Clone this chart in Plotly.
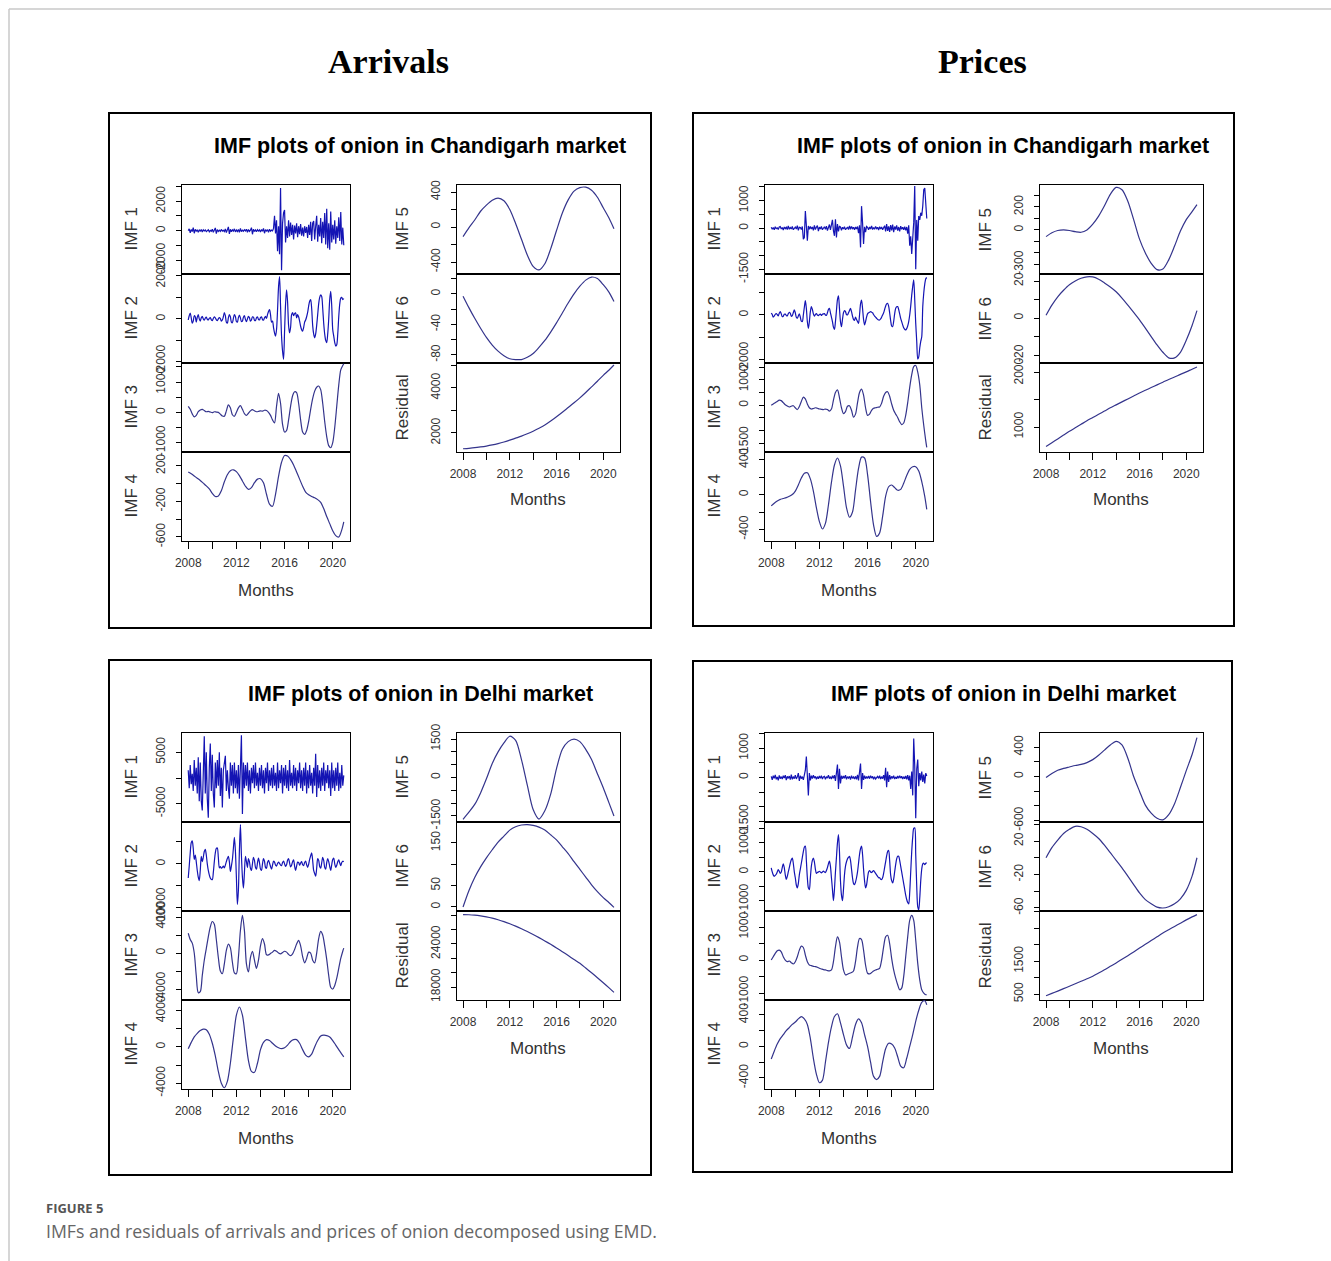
import plotly.graph_objects as go

# ---------------- time index (monthly, Jan 2008 .. Dec 2020) ----------------
MONTHS = [2008 + i / 12 for i in range(156)]
IDX_1M = list(range(156))
IDX_2M = list(range(0, 156, 2)) + [155]
IDX_3M = list(range(0, 156, 3)) + [155]
IDX_6M = list(range(0, 156, 6)) + [155]

X_TICKS = [2008, 2010, 2012, 2014, 2016, 2018, 2020]
X_TICK_TEXT = ["2008", "", "2012", "", "2016", "", "2020"]

# ---------------- Arrivals, Chandigarh ----------------
ARR_CHD_IMF1 = [0, 120, -150, 80, -60, 200, -180, 90, -50, 60, -110, 40,
                -30, 70, -90, 50, -20, 40, -70, 30, 60, -80, 20, -40,
                90, -120, 50, 180, -200, 70, -60, 30, -50, 80, -30, 20,
                -60, 110, -140, 60, 250, -220, 90, -80, 50, -30, 120, -90,
                40, -60, 80, -120, 150, -70, 30, -40, 60, -20, 90, -110,
                70, -50, 30, 200, -250, 100, -60, 40, -80, 60, -30, 50,
                -90, 80, -40, 150, -180, 70, -30, 60, -110, 90, -40, 30,
                -20, 150, 1000, -200, 700, -1400, 300, -1600, 2900, -2700, 500, 1200,
                1400, -800, 300, -500, 700, -400, 550, -300, 400, -600, 350, -200,
                500, -450, 300, -250, 450, -350, 200, -400, 300, -150, 250, -500,
                400, -300, 600, -700, 500, 650, -600, 300, 1000, -750, 400, -400,
                850, -850, 600, -500, 1200, -950, 1480, -1200, 500, -1300, 1300, -800,
                400, -600, 700, -900, 300, -500, 900, -700, 1270, -950, 200, -1000]
ARR_CHD_IMF2 = [-50, 150, 270, 50, -200, -100, 150, 100, -150, 80, 200, 0,
                -100, 50, 120, 0, -60, 40, 80, -20, -50, 30, 60, -40,
                -80, 20, 100, 50, -40, -80, 0, 60, 20, -100, -50, 100,
                300, 150, -150, -200, 50, 200, 100, -150, -180, 30, 200, 120,
                -120, -150, 60, 180, 50, -120, -100, 80, 150, -20, -130, 0,
                120, 60, -100, -50, 100, 80, -60, -80, 50, 100, -20, -50,
                60, 100, -30, -60, 50, 120, 20, 200, 350, 430, 200, -150,
                -100, -400, -650, -800, -500, 400, 1500, 1970, 600, -800, -1500, -1880,
                -600, 700, 1350, 800, -300, -650, -400, 200, 300, 150, 250, 280,
                50, 200, 100, -100, -340, -500, -570, -400, -150, -50, 100, 300,
                600, 820, 900, 500, -300, -700, -880, -700, -300, 200, 700, 1000,
                1120, 1050, 500, -200, -700, -1000, -1100, -700, 0, 900, 1280, 600,
                -500, -800, -1100, -1260, -1200, -700, 100, 700, 970, 1000, 900, 950]
ARR_CHD_IMF3 = [200, 100, -50, -150, -100, 20, 80, 100, 60, 20,
                30, 10, -10, 20, 10, 0, -60, -120, -130, 50,
                250, 150, -80, -130, 0, 150, 220, 100, -40, -100,
                -30, 50, 90, 50, 20, 30, 50, 40, 70, 60,
                0, -100, -250, -350, 200, 630, 300, -400, -650, -600,
                -250, 200, 550, 680, 650, 300, -250, -650, -730, -600,
                -300, 100, 450, 700, 830, 870, 750, 300, -300, -800,
                -1100, -1170, -1000, -500, 200, 900, 1400, 1550, 1600]
ARR_CHD_IMF4 = [130, 110, 85, 60, 35, 5, -25, -60, -110, -145,
                -140, -80, 20, 100, 145, 155, 135, 90, 30, -30,
                -65, -45, 10, 50, 55, 10, -120, -230, -255, -120,
                80, 240, 315, 310, 270, 210, 130, 50, -30, -95,
                -125, -145, -160, -180, -210, -280, -370, -450, -530, -585,
                -600, -520, -430]
ARR_CHD_IMF5 = [-110, -10, 80, 180, 250, 305, 330, 300, 200, 40, -140, -320, -450,
                -490, -420, -250, -40, 160, 310, 410, 450, 455, 420, 340, 220, 100, -20]
ARR_CHD_IMF6 = [-3, -18, -32, -45, -57, -67, -75, -81, -85, -86, -86, -83, -78,
                -70, -61, -50, -38, -25, -12, 0, 10, 18, 22, 20, 12, 2, -10]
ARR_CHD_RES = [1300, 1320, 1345, 1380, 1420, 1470, 1530, 1600, 1680, 1770, 1860, 1965, 2080,
               2210, 2350, 2530, 2720, 2920, 3130, 3340, 3560, 3800, 4050, 4300, 4560, 4800, 5020]

# ---------------- Prices, Chandigarh ----------------
PRI_CHD_IMF1 = [30, -40, 20, -60, 50, -20, 10, -50, 40, 60, -30, 20,
                -70, 40, -20, 30, -50, 80, -40, 20, -30, 60, -60, 10,
                40, -30, 90, -80, 30, 20, -50, 60, -400, -340, 620, 100,
                -460, 80, -40, 60, -30, 40, -80, 100, -50, 30, 90, -110,
                40, -30, 60, -60, 20, 50, -40, 70, -90, 40, 130, -60,
                80, 300, -100, -280, 320, -340, 150, -120, 60, 40, -80, 30,
                -30, 50, -60, 20, 40, -50, 80, -40, 60, -20, 30, -60,
                40, -30, 60, -180, 100, -700, 800, 200, -580, 50, -150, 60,
                30, -60, 40, -30, 80, -50, 20, -40, 60, -20, 30, -70,
                50, -30, 40, -60, 20, 90, -120, 150, -100, 60, -140, 110,
                -80, 130, -150, 60, -50, 100, -90, 40, -120, 70, -40, 30,
                -60, 50, -80, 40, -200, 100, -640, -300, -940, -450, 200, 1530,
                -1500, 300, -460, 440, 300, 560, 450, 800, 1400, 1460, 1000, 350]
PRI_CHD_IMF2 = [80, 20, -100, -50, 30, 60, 20, -40, 80, 150, 50, -80,
                -60, 30, 40, -20, -40, 60, 120, 80, -60, -30, 100, 230,
                100, -100, -150, -50, 50, -100, -280, -300, 0, 350, 650, 300,
                -300, -610, -300, 150, 380, 250, 50, -50, 20, 60, 0, -30,
                20, 40, -20, 30, 50, 60, 0, -20, 100, 250, 300, 100,
                -100, -300, -550, -650, -300, 200, 700, 870, 300, -300, -530, -200,
                100, 200, 150, 20, 0, 100, 200, 300, 150, -50, -200, -250,
                -100, -200, -300, -380, 0, 500, 680, 300, -200, -450, -300, -100,
                50, 100, 120, 150, 130, 100, 20, -50, -100, -150, -200, -230,
                -230, -180, -100, 0, 100, 250, 400, 500, 530, 400, 100, -250,
                -500, -530, -300, 50, 300, 370, 380, 250, 50, -150, -300, -450,
                -580, -650, -680, -620, -500, -300, 0, 400, 900, 1300, 1600, 700,
                -380, -1200, -2000, -1900, -1500, -1200, -990, 380, 1000, 1400, 1640, 1700]
PRI_CHD_IMF3 = [0, 50, 100, 150, 200, 180, 100, 20, -30, -70,
                -40, -20, -100, -170, -50, 150, 320, 250, 50, -100,
                -150, -130, -100, -120, -150, -160, -170, -150, -170, -230,
                -150, 200, 500, 600, 300, -100, -330, -250, -40, -20,
                -200, -470, -350, 100, 500, 630, 400, -100, -400, -350,
                -200, -120, -100, -80, -70, 80, 350, 500, 530, 350,
                50, -200, -350, -480, -650, -760, -700, -400, 100, 700,
                1200, 1520, 1560, 1300, 800, -100, -800, -1400, -1660]
PRI_CHD_IMF4 = [-130, -100, -75, -55, -45, -35, -20, 0, 40, 110,
                190, 245, 250, 180, 40, -150, -310, -395, -330, -120,
                140, 340, 420, 330, 100, -150, -260, -200, 50, 300,
                430, 420, 230, -80, -350, -480, -440, -250, -20, 90,
                110, 80, 50, 60, 130, 220, 290, 320, 320, 270,
                150, -20, -170]
PRI_CHD_IMF5 = [-58, -25, -5, 0, -5, -15, -20, 0, 50, 120, 210, 310, 370,
                350, 250, 90, -80, -200, -290, -345, -340, -260, -140, -10, 90, 160, 220]
PRI_CHD_IMF6 = [1.5, 7, 11.5, 15, 18, 20, 21.5, 22.3, 22.2, 21, 19, 16.8, 14.2,
                10.8, 7, 3, -1, -5.5, -10, -14.5, -18.5, -21.5, -21.5, -18.5, -12, -4, 4]
PRI_CHD_RES = [640, 710, 780, 850, 920, 985, 1050, 1115, 1175, 1235, 1295, 1355, 1410,
               1465, 1520, 1575, 1630, 1680, 1730, 1780, 1830, 1880, 1925, 1975, 2020, 2070, 2110]

# ---------------- Arrivals, Delhi ----------------
ARR_DEL_IMF1 = [1500, -2000, 2500, -1200, 800, -2500, 3500, -1500, 2000, -3000, 4000, -4500,
                3000, -4500, -6300, 4000, 8100, -3000, 5000, -4000, -7700, 2000, 6700, -2500,
                4500, -3000, -5700, 3000, -2000, 3500, -1500, 5000, -3500, 2000, -5700, 1500,
                3000, 4300, -2500, 1500, -2000, -4000, 3000, -1500, 2500, -3000, 3000, -2000,
                1500, -3000, 2500, -4000, 2000, 8300, -7000, 3000, -2000, 2500, -1500, 3000,
                -2500, 1500, -3000, 2000, -1000, 2500, -2000, 3000, -1500, 1000, -2500, 2000,
                -1500, 2500, -2000, 1500, -3000, 2000, -1000, 3000, -2500, 1500, -1500, 2000,
                -2000, 2500, -1500, 1000, -2500, 3000, -2000, 1500, -1000, 2500, -3000, 2000,
                -1500, 2500, -2000, 1500, -2500, 3500, -1500, 1000, -2000, 2500, -1500, 2000,
                -2500, 1500, -1000, 3000, -2000, 1500, -2500, 2000, -1500, 3000, -3000, 1500,
                -2000, 2500, -1500, 1000, -3000, 2000, -1500, 4700, -3700, 2500, -2000, 1500,
                -2500, 2000, -1500, 3000, -2500, 1500, -1000, 2500, -2000, 1500, -3500, 3000,
                -2000, 1500, -2500, 2000, -1500, 3000, -2500, 1000, -2000, 2500, -1500, 500]
ARR_DEL_IMF2 = [-3200, -500, 2500, 4800, 5200, 3500, 1000, 2000, 500, -1500, -3000, -3800,
                -1500, 1700, 500, 1500, 2800, 3300, 2000, 0, -1500, -2500, -3200, -3500,
                -3600, -2000, 500, 2500, 3500, 3600, 1500, -900, -600, -1000, -800, -500,
                -900, -300, 500, 1200, 1700, 500, -1700, -500, 1000, 3500, 6000, 3000,
                -3000, -9200, -6000, 3000, 8900, 2000, -3000, -5500, -2000, 1700, 500, -800,
                1200, 500, -1000, -1500, 0, 1500, 800, -800, -1200, 200, 1300, 300,
                -1200, -1500, 0, 1200, 600, -800, -1000, 300, 800, 200, -600, -1200,
                -300, 600, 400, -300, -500, 100, 400, 100, -300, -400, 300, 600,
                0, -600, -200, 800, 1200, 200, -700, -300, 500, 900, -500, -1500,
                -500, 400, 300, -300, 200, 500, -200, -400, 300, 600, -200, -800,
                -100, 1000, 1800, 2500, 800, -1500, -2200, -2800, -1000, 1200, 800, -600,
                -1000, 200, 1500, 800, -800, -1200, 300, 1200, 500, -600, -1500, -200,
                1000, 1300, 0, -800, -300, 500, 900, 200, -400, 300, 600, 500]
ARR_DEL_IMF3 = [2200, 1500, 1100, 0, -2500, -4400, -4300, -2500, -800, 500,
                1800, 2900, 3500, 3200, 1500, -500, -2000, -2300, -1200, 300,
                1000, 600, -1000, -2200, -2300, -500, 2500, 4200, 2500, -1200,
                -2100, -500, 200, -800, -1700, -800, 800, 1600, 1000, -200,
                -200, -50, 100, 300, 200, 0, -100, 50, 200, 100,
                -150, -300, -100, 400, 1000, 1400, 800, -400, -1100, -600,
                100, 0, -800, -1100, 0, 1600, 2400, 2000, 800, -700,
                -2500, -3800, -4000, -3600, -2800, -1700, -600, 200, 550]
ARR_DEL_IMF4 = [-200, 500, 1100, 1500, 1800, 1950, 1900, 1400, 400, -1000,
                -2700, -4000, -4500, -3800, -1800, 1000, 3500, 4400, 3500, 1000,
                -1500, -2700, -2800, -1800, -300, 500, 800, 700, 400, 100,
                -100, -200, -100, 200, 600, 800, 800, 400, -300, -900,
                -1100, -800, 0, 700, 1200, 1300, 1250, 1100, 700, 200,
                -300, -800, -1100]
ARR_DEL_IMF5 = [-1630, -1350, -1050, -600, -50, 550, 1000, 1350, 1610, 1450, 700, -300, -1250,
                -1620, -1300, -650, 350, 1100, 1400, 1500, 1400, 1100, 700, 150, -400, -1000, -1500]
ARR_DEL_IMF6 = [0, 38, 69, 94, 115, 134, 152, 166, 180, 188, 192, 193, 191,
                187, 180, 169, 157, 141, 125, 106, 88, 70, 52, 36, 22, 10, -1]
ARR_DEL_RES = [28100, 28080, 28020, 27920, 27780, 27600, 27380, 27120, 26820, 26490, 26130,
               25740, 25330, 24890, 24430, 23950, 23450, 22930, 22390, 21830, 21300, 20650,
               19980, 19300, 18600, 17880, 17250]

# ---------------- Prices, Delhi ----------------
PRI_DEL_IMF1 = [40, -80, 60, -30, 90, -60, 20, -100, 70, -40, 30, -50,
                60, -20, 80, -90, 40, -30, 50, -70, 100, -60, 30, -40,
                80, -50, 20, 150, -120, 60, -40, 30, -80, 100, 250, 720,
                -200, -610, 150, -100, 60, -40, 80, -20, 40, -60, 30, -40,
                50, -30, 60, -50, 20, 40, -60, 30, -20, 80, -40, 30,
                -50, 60, -30, 80, -120, 100, 440, -390, 300, -200, 60, -40,
                50, -30, 80, -60, 30, -20, 40, -70, 60, -30, 20, -50,
                40, -60, 90, -100, 200, 480, -390, 150, -80, 60, -40, 30,
                -30, 50, -40, 60, -20, 40, -60, 30, -50, 20, 40, -30,
                60, -50, 30, -40, 80, -100, 330, -330, 200, -150, 80, -60,
                40, -30, 60, -50, 20, -40, 50, -30, 60, -20, 40, -50,
                30, -40, 50, -60, 80, -100, 60, -390, 200, -610, 1330, 400,
                -1390, 300, 610, -300, 150, -100, 200, -150, 100, -200, 150, 50]
PRI_DEL_IMF2 = [140, 0, -100, -150, -120, -80, 0, 80, 20, -50, 0, 150,
                280, 150, -100, -260, -150, 0, 150, 300, 420, 480, 300, 0,
                -200, -450, -550, -400, -100, 100, 300, 500, 700, 850, 890, 400,
                -200, -550, -610, -200, 200, 400, 480, 350, 100, -50, -20, 0,
                20, 0, -30, 0, 30, 0, -20, 50, 150, 280, 370, 200,
                -200, -600, -990, -600, 0, 500, 1000, 1290, 700, -300, -800, -990,
                -600, -100, 200, 350, 450, 500, 540, 400, 100, -200, -400, -440,
                -350, -200, 0, 300, 600, 800, 890, 600, 100, -300, -550, -450,
                -200, 0, 50, 0, -20, 20, 50, 0, -50, -100, -150, -200,
                -200, -250, -260, -200, -50, 150, 350, 550, 700, 740, 400, -100,
                -300, -380, -250, 0, 250, 450, 540, 540, 400, 200, 0, -200,
                -400, -600, -800, -950, -1050, -1100, -700, 0, 700, 1200, 1500, 1520,
                600, -500, -1200, -1300, -900, -300, 100, 280, 300, 250, 300, 310]
PRI_DEL_IMF3 = [0, 100, 200, 280, 300, 250, 100, 0, -50, -30,
                -80, -120, -50, 100, 300, 420, 380, 150, -50, -150,
                -170, -190, -200, -220, -250, -270, -290, -300, -320, -330,
                -300, -50, 400, 700, 550, 100, -300, -450, -430, -400,
                -380, -330, -50, 400, 650, 620, 300, -150, -400, -420,
                -380, -330, -300, -280, -250, 0, 400, 700, 750, 500,
                50, -300, -550, -750, -900, -850, -500, 100, 700, 1200,
                1350, 1200, 600, -100, -600, -900, -1000, -1050, -1050]
PRI_DEL_IMF4 = [-160, -60, 30, 100, 150, 200, 240, 280, 310, 350,
                380, 350, 280, 100, -150, -350, -460, -430, -200, 50,
                250, 380, 415, 300, 150, 20, -25, 120, 280, 350,
                300, 150, 0, -200, -380, -420, -380, -200, -30, 40,
                30, -20, -130, -250, -270, -150, 0, 150, 320, 460,
                560, 580, 530]
PRI_DEL_IMF5 = [-15, 40, 85, 110, 130, 150, 165, 190, 230, 290, 360, 430, 480,
                430, 250, 0, -200, -390, -500, -570, -590, -520, -370, -150, 80, 300, 530]
PRI_DEL_IMF6 = [0, 12, 21, 29, 34, 37.5, 37, 34, 29, 23, 15, 6, -3,
                -12, -22, -32, -42, -50, -55, -59, -60, -58.5, -55, -49, -39, -22, 0]
PRI_DEL_RES = [450, 520, 590, 665, 740, 815, 890, 965, 1045, 1140, 1240, 1345, 1450,
               1560, 1670, 1785, 1900, 2015, 2130, 2245, 2360, 2460, 2560, 2660, 2760, 2850, 2920]

# ---------------- layout constants ----------------
W, H = 1331, 1261
FONT = "Liberation Sans, Arial, sans-serif"
C_FAST = "#1414b4"
C_SLOW = "#34348c"


def px(x):
    return x / W


def py(y):
    return 1 - y / H


# each subplot: (label, values, index, y-range, tick values, labelled ticks)
PANELS = [
    dict(title="IMF plots of onion in Chandigarh market", dx=0, dy=0,
         box=(109, 113, 651, 628),
         left=[("IMF 1", ARR_CHD_IMF1, IDX_1M, [-2950, 3100], [-2000, -1000, 0, 1000, 2000, 3000], [-2000, 0, 2000]),
               ("IMF 2", ARR_CHD_IMF2, IDX_1M, [-2050, 2090], [-2000, -1000, 0, 1000, 2000], [-2000, 0, 2000]),
               ("IMF 3", ARR_CHD_IMF3, IDX_2M, [-1310, 1630], [-1000, -500, 0, 500, 1000, 1500], [-1000, 0, 1000]),
               ("IMF 4", ARR_CHD_IMF4, IDX_3M, [-645, 355], [-600, -400, -200, 0, 200], [-600, -200, 200])],
         right=[("IMF 5", ARR_CHD_IMF5, IDX_6M, [-537, 480], [-400, -200, 0, 200, 400], [-400, 0, 400]),
                ("IMF 6", ARR_CHD_IMF6, IDX_6M, [-90.5, 26], [-80, -60, -40, -20, 0, 20], [-80, -40, 0]),
                ("Residual", ARR_CHD_RES, IDX_6M, [1155, 5110], [2000, 3000, 4000, 5000], [2000, 4000])]),
    dict(title="IMF plots of onion in Chandigarh market", dx=583, dy=0,
         box=(693, 113, 1234, 626),
         left=[("IMF 1", PRI_CHD_IMF1, IDX_1M, [-1670, 1570], [-1500, -1000, -500, 0, 500, 1000, 1500], [-1500, 0, 1000]),
               ("IMF 2", PRI_CHD_IMF2, IDX_1M, [-2180, 1860], [-2000, -1000, 0, 1000], [-2000, 0]),
               ("IMF 3", PRI_CHD_IMF3, IDX_2M, [-1840, 1660], [-1500, -1000, -500, 0, 500, 1000, 1500], [-1500, 0, 1000]),
               ("IMF 4", PRI_CHD_IMF4, IDX_3M, [-533, 489], [-400, -200, 0, 200, 400], [-400, 0, 400])],
         right=[("IMF 5", PRI_CHD_IMF5, IDX_6M, [-383, 391], [-300, -200, -100, 0, 100, 200, 300], [-300, 0, 200]),
                ("IMF 6", PRI_CHD_IMF6, IDX_6M, [-24.3, 23.8], [-20, -10, 0, 10, 20], [-20, 0, 20]),
                ("Residual", PRI_CHD_RES, IDX_6M, [537, 2185], [1000, 1500, 2000], [1000, 2000])]),
    dict(title="IMF plots of onion in Delhi market", dx=0, dy=548,
         box=(109, 660, 651, 1175),
         left=[("IMF 1", ARR_DEL_IMF1, IDX_1M, [-8530, 8725], [-5000, 0, 5000], [-5000, 5000]),
               ("IMF 2", ARR_DEL_IMF2, IDX_1M, [-10700, 9500], [-10000, -5000, 0, 5000], [-10000, 0]),
               ("IMF 3", ARR_DEL_IMF3, IDX_2M, [-5220, 4670], [-4000, -2000, 0, 2000, 4000], [-4000, 0, 4000]),
               ("IMF 4", ARR_DEL_IMF4, IDX_3M, [-4640, 5170], [-4000, -2000, 0, 2000, 4000], [-4000, 0, 4000])],
         right=[("IMF 5", ARR_DEL_IMF5, IDX_6M, [-1736, 1736], [-1500, -1000, -500, 0, 500, 1000, 1500], [-1500, 0, 1500]),
                ("IMF 6", ARR_DEL_IMF6, IDX_6M, [-9.4, 199], [0, 50, 100, 150], [0, 50, 150]),
                ("Residual", ARR_DEL_RES, IDX_6M, [16190, 28600], [18000, 20000, 22000, 24000, 26000, 28000], [18000, 24000])]),
    dict(title="IMF plots of onion in Delhi market", dx=583, dy=548,
         box=(693, 661, 1232, 1172),
         left=[("IMF 1", PRI_DEL_IMF1, IDX_1M, [-1520, 1520], [-1500, -1000, -500, 0, 500, 1000, 1500], [-1500, 0, 1000]),
               ("IMF 2", PRI_DEL_IMF2, IDX_1M, [-1345, 1720], [-1000, -500, 0, 500, 1000, 1500], [-1000, 0, 1000]),
               ("IMF 3", PRI_DEL_IMF3, IDX_2M, [-1210, 1485], [-1000, -500, 0, 500, 1000], [-1000, 0, 1000]),
               ("IMF 4", PRI_DEL_IMF4, IDX_3M, [-540, 590], [-400, -200, 0, 200, 400], [-400, 0, 400])],
         right=[("IMF 5", PRI_DEL_IMF5, IDX_6M, [-620, 593], [-600, -400, -200, 0, 200, 400], [-600, 0, 400]),
                ("IMF 6", PRI_DEL_IMF6, IDX_6M, [-63.6, 42.7], [-60, -40, -20, 0, 20, 40], [-60, -20, 20]),
                ("Residual", PRI_DEL_RES, IDX_6M, [320, 3030], [500, 1000, 1500, 2000, 2500, 3000], [500, 1500])]),
]

# geometry of a panel (pixels, for the top-left panel; others are shifted)
LEFT_X = (182, 350)
RIGHT_X = (457, 620)
ROW_TOP = 185
ROW_H = 89
X_RANGE = [2007.483, 2021.434]

fig = go.Figure()
layout = dict(template="none", width=W, height=H, autosize=False,
              margin=dict(l=0, r=0, t=0, b=0, pad=0, autoexpand=False),
              paper_bgcolor="white", plot_bgcolor="white", showlegend=False,
              hovermode=False, font=dict(family=FONT, color="#333"))
annotations = []
shapes = []
n = 0


def add_column(panel, subplots, xpix, label_x, months_x, months_y):
    global n
    dx, dy = panel["dx"], panel["dy"]
    count = len(subplots)
    for k, (lab, vals, idx, yr, tv, labelled) in enumerate(subplots):
        n += 1
        xs = [MONTHS[i] for i in idx]
        xname = "x" if n == 1 else f"x{n}"
        yname = "y" if n == 1 else f"y{n}"
        fast = idx is IDX_1M
        shape = "linear" if vals is panel["left"][0][1] else "spline"
        color = C_FAST if fast else C_SLOW
        fig.add_trace(go.Scatter(x=xs, y=vals, mode="lines", xaxis=xname, yaxis=yname,
                                 line=dict(color=color, width=1.2, shape=shape,
                                           smoothing=0.8 if shape == "spline" else None)))
        top = ROW_TOP + dy + k * ROW_H
        bot = top + ROW_H
        bottom_row = (k == count - 1)
        xa = dict(domain=[px(xpix[0] + dx), px(xpix[1] + dx)], anchor=yname, range=X_RANGE,
                  automargin=False,
                  showgrid=False, zeroline=False, showline=True, mirror=True,
                  linecolor="black", linewidth=1,
                  tickvals=X_TICKS, ticktext=X_TICK_TEXT,
                  ticks="outside" if bottom_row else "", ticklen=7, tickcolor="black",
                  showticklabels=bottom_row, tickfont=dict(size=12, color="#333", family=FONT),
                  ticklabelstandoff=4)
        ya = dict(domain=[py(bot), py(top)], anchor=xname, range=yr,
                  automargin=False,
                  showgrid=False, zeroline=False, showline=True, mirror=True,
                  linecolor="black", linewidth=1,
                  tickvals=tv, ticktext=[str(v) if v in labelled else "" for v in tv],
                  ticks="outside", ticklen=5, tickcolor="black", tickangle=-90,
                  tickfont=dict(size=12, color="#333", family=FONT), ticklabelstandoff=6)
        layout["xaxis" if n == 1 else f"xaxis{n}"] = xa
        layout["yaxis" if n == 1 else f"yaxis{n}"] = ya
        annotations.append(dict(x=px(label_x + dx), y=py((top + bot) / 2), xref="paper", yref="paper",
                                text=lab, showarrow=False, textangle=-90,
                                font=dict(size=17, color="#333", family=FONT),
                                xanchor="center", yanchor="middle"))
    annotations.append(dict(x=px(months_x + dx), y=py(months_y + dy), xref="paper", yref="paper",
                            text="Months", showarrow=False,
                            font=dict(size=17, color="#333", family=FONT),
                            xanchor="center", yanchor="middle"))


for p in PANELS:
    add_column(p, p["left"], LEFT_X, 131, 266, 590)
    add_column(p, p["right"], RIGHT_X, 402, 538, 500)
    annotations.append(dict(x=px(420 + p["dx"]), y=py(146 + p["dy"]), xref="paper", yref="paper",
                            text="<b>" + p["title"] + "</b>", showarrow=False,
                            font=dict(size=21.5, color="black", family=FONT),
                            xanchor="center", yanchor="middle"))
    x0, y0, x1, y1 = p["box"]
    shapes.append(dict(type="rect", xref="paper", yref="paper",
                       x0=px(x0), x1=px(x1), y0=py(y1), y1=py(y0),
                       line=dict(color="black", width=2)))

# column headings
for txt, xc in (("Arrivals", 388), ("Prices", 982)):
    annotations.append(dict(x=px(xc), y=py(61), xref="paper", yref="paper",
                            text="<b>" + txt + "</b>", showarrow=False,
                            font=dict(size=34, color="black",
                                      family="Liberation Serif, Times New Roman, serif"),
                            xanchor="center", yanchor="middle"))

# caption
annotations.append(dict(x=px(44), y=py(1208), xref="paper", yref="paper",
                        text="<b>FIGURE 5</b>", showarrow=False,
                        font=dict(size=13, color="#555", family="Open Sans, sans-serif"),
                        xanchor="left", yanchor="middle"))
annotations.append(dict(x=px(44), y=py(1231), xref="paper", yref="paper",
                        text="IMFs and residuals of arrivals and prices of onion decomposed using EMD.",
                        showarrow=False,
                        font=dict(size=17.7, color="#666", family="Open Sans, sans-serif"),
                        xanchor="left", yanchor="middle"))

# page frame lines
shapes.append(dict(type="line", xref="paper", yref="paper", x0=px(9), x1=1, y0=py(9), y1=py(9),
                   line=dict(color="#c8c8c8", width=1.5)))
shapes.append(dict(type="line", xref="paper", yref="paper", x0=px(9), x1=px(9), y0=py(9), y1=0,
                   line=dict(color="#c8c8c8", width=1.5)))

layout["annotations"] = annotations
layout["shapes"] = shapes
fig.update_layout(**layout)

PAGE_FIT = """
var s = 'margin:0;padding:0;overflow:hidden;';
document.documentElement.style.cssText = s;
document.body.style.cssText = s;
"""
fig.write_html("out.html", config={"displayModeBar": False}, post_script=PAGE_FIT)
